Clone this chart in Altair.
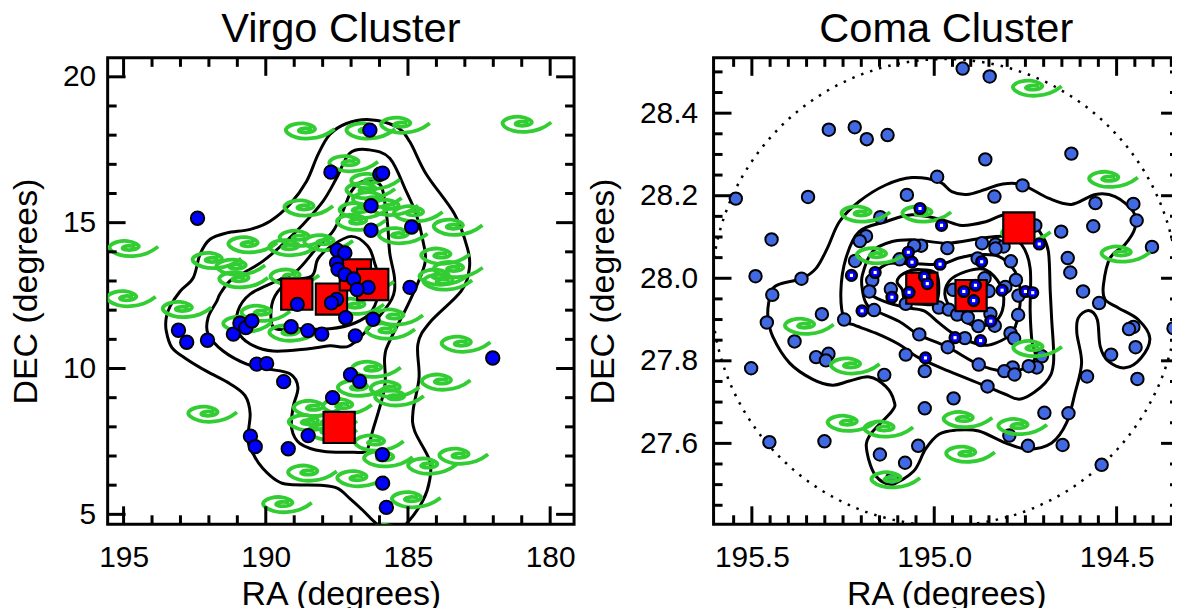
import altair as alt
import pandas as pd

FONT = "Liberation Sans"

# ---------- Virgo panel (RA, DEC in degrees) ----------
VIRGO_BLUE = [(187.71,16.73),(192.40,15.15),(186.34,18.17),(185.99,16.66),(185.89,16.70),(186.30,15.58),(186.30,14.74),
 (184.87,14.85),(187.49,14.06),(187.22,13.96),(187.51,13.62),(187.46,13.40),(187.22,13.22),(186.91,13.07),(186.40,12.78),
 (186.79,12.71),(184.93,12.78),(187.51,12.37),(187.69,12.25),(188.89,12.20),(193.07,11.31),(192.78,10.90),(192.05,10.97),
 (191.14,11.18),(190.91,11.55),(190.70,11.40),(190.49,11.63),(189.11,11.43),(188.52,11.30),(188.03,11.18),(187.19,11.74),
 (186.23,11.69),(186.85,11.12),(190.32,10.15),(189.97,10.17),(189.37,9.55),(187.65,9.00),(187.02,9.79),(186.70,9.56),
 (182.02,10.36),(190.54,7.68),(190.37,7.32),(189.21,7.25),(188.51,7.70),(185.90,7.05),(185.89,6.07),(185.76,5.24)]
VIRGO_RED = [(188.91,12.55),(187.69,12.38),(186.85,13.21),(186.24,12.88),(187.42,7.98)]
VIRGO_SPIRALS = [(188.47,18.12),(194.67,14.09),(191.75,13.68),(190.91,13.45),(190.81,13.02),(194.76,12.37),(190.49,14.22),
 (189.05,14.12),(188.69,14.44),(187.82,14.29),(188.52,15.48),(189.01,13.11),(186.94,17.00),(192.80,12.00),(186.34,18.12),
 (185.12,18.32),(180.85,18.35),(186.17,16.39),(186.34,16.07),(186.11,15.76),(185.53,15.50),(186.58,15.39),(186.67,14.99),
 (184.67,15.28),(183.27,14.82),(185.20,14.53),(183.71,13.83),(183.26,13.37),(183.77,13.11),(183.63,12.94),(185.64,11.26),
 (185.36,11.74),(190.03,11.87),(190.67,11.49),(189.05,11.19),(191.90,8.41),(188.19,8.61),(188.37,8.12),(188.39,6.39),
 (189.27,5.31),(186.66,6.20),(186.64,9.30),(186.14,9.95),(185.49,9.27),(185.33,8.97),(183.69,9.51),(182.99,10.81),
 (187.16,8.67),(186.04,7.42),(185.72,6.88),(184.17,6.63),(183.07,6.97),(184.74,5.48),(185.55,4.35),(187.68,8.11),
 (187.68,7.80),(186.38,12.89),(186.73,12.11)]
VIRGO_C1 = [(186.17,4.73),(186.59,5.14),(187.05,5.55),(187.47,5.89),(187.99,5.99),(189.15,6.02),(189.62,6.16),(190.10,6.57),
 (190.38,6.96),(190.63,7.53),(190.55,8.45),(190.73,9.07),(191.26,9.48),(192.07,9.90),(192.78,10.32),(193.30,10.72),
 (193.50,11.29),(193.50,11.74),(193.36,12.14),(193.01,12.65),(192.55,13.11),(192.31,13.92),(191.96,14.43),(191.37,14.65),
 (190.55,14.77),(189.85,15.05),(189.15,15.63),(188.57,16.41),(188.16,17.34),(187.75,18.02),(187.16,18.40),(186.34,18.53),
 (185.41,18.29),(184.94,17.78),(184.35,16.65),(183.36,15.29),(182.91,14.13),(182.84,13.45),(183.13,12.65),(184.24,11.57),
 (184.65,10.84),(184.61,9.69),(184.82,8.55),(184.77,7.87),(184.24,6.85),(184.24,6.16),(184.47,5.48),(185.00,4.74),(185.57,4.28)]
VIRGO_C2 = [(191.72,12.31),(192.03,11.74),(192.03,11.19),(191.50,10.60),(190.67,10.15),(189.97,9.99),(189.15,9.82),(188.87,9.35),
 (189.04,8.67),(189.09,7.94),(188.80,7.43),(187.99,7.16),(186.94,7.13),(186.46,7.19),(186.24,7.87),(185.82,9.35),(185.82,10.38),
 (185.64,10.95),(184.94,12.31),(184.41,13.58),(184.47,14.36),(184.71,15.29),(185.06,16.07),(185.64,17.21),(186.40,17.50),
 (187.05,17.38),(187.51,16.53),(187.99,15.73),(188.69,14.94),(189.40,14.26),(190.10,13.68),(190.67,13.34),(191.26,13.00),(191.61,12.55)]
VIRGO_C3 = [(190.98,11.97),(190.98,11.29),(190.55,10.84),(189.75,10.60),(188.55,10.67),(187.75,10.78),(187.05,10.78),(186.24,11.53),
 (185.57,12.38),(185.47,13.06),(185.64,13.95),(185.71,14.88),(185.82,15.73),(185.99,16.31),(186.59,16.41),(186.99,16.07),
 (187.29,15.39),(187.64,14.70),(188.21,14.13),(188.92,13.34),(189.62,13.00),(190.55,12.55)]
VIRGO_C4 = [(186.99,14.53),(186.41,14.19),(186.17,13.61),(185.99,12.83),(186.27,11.97),(186.87,11.56),(187.75,11.36),(188.80,11.36),
 (189.64,11.36),(189.82,11.77),(189.68,12.48),(189.15,13.00),(188.38,13.17),(188.17,13.75),(187.71,14.19)]
VIRGO_X_MAJOR = [195, 190, 185, 180]
VIRGO_X_MINOR = [194, 193, 192, 191, 189, 188, 187, 186, 184, 183, 182, 181]
VIRGO_Y_MAJOR = [5, 10, 15, 20]
VIRGO_Y_MINOR = [6, 7, 8, 9, 11, 12, 13, 14, 16, 17, 18, 19]
VIRGO_X_DOMAIN = [195.56, 179.16]
VIRGO_Y_DOMAIN = [4.66, 20.65]

# ---------- Coma panel (RA, DEC in degrees) ----------
COMA_MEMBERS = [(195.289,28.360),(195.218,28.366),(195.185,28.337),(195.128,28.347),(195.544,28.193),(195.346,28.197),(195.446,28.094),
 (195.490,28.005),(195.364,27.999),(194.992,28.246),(195.075,28.202),(195.148,28.148),(195.187,28.102),(195.204,28.090),(195.036,28.079),
 (195.055,28.079),(195.217,28.042),(195.095,28.046),(195.170,27.995),(195.178,27.968),(195.119,27.974),(195.444,27.960),(194.922,28.508),
 (194.848,28.489),(194.860,28.288),(194.624,28.302),(194.835,28.198),(194.758,28.225),(194.558,28.182),(194.454,28.180),(194.445,28.140),
 (194.564,28.126),(194.652,28.113),(194.403,28.076),(194.634,28.049),(194.627,28.014),(194.592,27.968),(194.723,28.128),(194.869,28.085),
 (194.832,28.082),(194.810,28.077),(194.832,28.072),(194.964,28.073),(194.881,28.048),(194.790,28.041),(194.776,27.996),(195.459,27.893),
 (195.308,27.913),(195.383,27.847),(195.324,27.809),(195.290,27.817),(195.297,27.801),(195.502,27.782),(195.137,27.766),(195.247,27.900),
 (195.165,27.923),(195.078,27.938),(195.041,27.864),(195.078,27.815),(195.026,27.775),(195.026,27.685),(195.452,27.603),(195.301,27.605),
 (195.149,27.573),(195.080,27.553),(195.044,27.594),(195.116,27.514),(194.548,27.940),(194.454,27.882),(194.466,27.877),(194.448,27.833),
 (194.515,27.815),(194.443,27.756),(194.344,27.879),(194.581,27.762),(194.632,27.673),(194.698,27.674),(194.648,27.596),(194.743,27.594),
 (194.794,27.619),(194.541,27.548),(194.947,27.709),(194.854,27.738),(194.878,27.791),(194.770,27.911),(194.791,27.867),(194.781,27.854),
 (194.705,27.811),(194.719,27.784),(194.741,27.787),(194.785,27.784),(194.808,27.775),(194.780,27.767),(194.963,27.833),(194.916,27.855),
 (194.834,27.885),(194.879,27.884),(194.987,27.929),(194.960,27.924),(194.937,27.912),(194.908,27.905),(194.862,28.000),(194.948,27.972),
 (194.851,27.969),(194.805,27.979),(194.846,27.914),(194.769,27.958)]
COMA_SELECTED = [(195.039,28.169),(194.980,28.128),(194.712,28.083),(195.071,28.063),(195.061,28.039),(194.984,28.034),(194.870,28.040),
 (195.227,28.007),(195.162,28.014),(195.027,28.004),(195.019,27.987),(195.069,27.966),(195.116,27.954),(194.887,27.983),(194.919,27.968),
 (194.892,27.946),(194.814,27.971),(194.750,27.968),(194.730,27.965),(195.198,27.921),(194.845,27.896),(194.943,27.856),(194.873,27.849),(195.024,27.807)]
COMA_RED = [(194.768,28.122),(195.034,27.976),(194.899,27.958)]
COMA_SPIRALS = [(195.190,28.154),(195.023,28.154),(195.148,28.053),(194.720,28.459),(194.511,28.238),(194.477,28.057),(194.750,28.106),
 (195.345,27.882),(195.219,27.786),(195.228,27.647),(195.127,27.633),(195.108,27.510),(194.719,27.828),(194.910,27.656),(194.760,27.639),(194.903,27.572)]
COMA_CENTRE = [(194.971, 27.966)]
COMA_C1 = [(195.443,27.975),(195.416,27.988),(195.364,27.999),(195.324,28.024),(195.293,28.073),(195.260,28.137),(195.206,28.186),(195.133,28.226),
 (195.061,28.244),(194.987,28.234),(194.952,28.210),(194.911,28.203),(194.860,28.215),(194.815,28.228),(194.760,28.227),(194.687,28.194),(194.624,28.179),
 (194.558,28.203),(194.504,28.198),(194.454,28.161),(194.450,28.121),(194.477,28.082),(194.518,28.049),(194.536,27.985),(194.532,27.949),(194.495,27.928),
 (194.441,27.900),(194.409,27.855),(194.433,27.807),(194.477,27.783),(194.523,27.799),(194.545,27.835),(194.553,27.900),(194.577,27.922),(194.605,27.904),
 (194.609,27.867),(194.596,27.795),(194.614,27.722),(194.637,27.650),(194.678,27.601),(194.743,27.586),(194.805,27.601),(194.878,27.630),(194.942,27.632),
 (194.987,27.622),(195.024,27.586),(195.056,27.533),(195.116,27.502),(195.160,27.521),(195.184,27.577),(195.178,27.618),(195.116,27.678),(195.110,27.702),
 (195.133,27.738),(195.178,27.761),(195.233,27.751),(195.279,27.741),(195.333,27.755),(195.397,27.795),(195.443,27.859),(195.456,27.908),(195.454,27.940)]
COMA_C2 = [(195.247,27.900),(195.256,27.968),(195.242,28.049),(195.206,28.113),(195.133,28.137),(195.061,28.154),(194.979,28.142),(194.924,28.128),
 (194.859,28.137),(194.805,28.154),(194.741,28.142),(194.706,28.106),(194.687,28.065),(194.682,27.968),(194.678,27.900),(194.673,27.795),(194.696,27.746),
 (194.760,27.708),(194.805,27.719),(194.856,27.738),(194.960,27.775),(195.042,27.807),(195.097,27.840),(195.160,27.867),(195.224,27.888)]
COMA_C3 = [(195.197,27.972),(195.197,28.008),(195.169,28.065),(195.115,28.089),(195.051,28.093),(194.965,28.085),(194.869,28.097),(194.805,28.101),
 (194.760,28.081),(194.737,28.024),(194.737,27.920),(194.732,27.847),(194.723,27.807),(194.760,27.779),(194.810,27.775),(194.878,27.791),(194.963,27.833),
 (195.042,27.863),(195.097,27.896),(195.165,27.923),(195.187,27.940)]
COMA_C4 = [(195.178,27.964),(195.174,27.996),(195.133,28.033),(195.069,28.036),(194.983,28.034),(194.933,28.049),(194.883,28.057),(194.823,28.053),
 (194.778,28.016),(194.764,27.968),(194.769,27.912),(194.787,27.867),(194.832,27.843),(194.873,27.839),(194.942,27.863),(194.987,27.892),(195.028,27.921),
 (195.078,27.929),(195.137,27.944)]
COMA_C5 = [(195.102,27.992),(195.088,27.973),(195.078,27.944),(195.034,27.937),(194.993,27.944),(194.993,28.009),(195.042,28.021),(195.083,28.012)]
COMA_C6 = [(194.969,27.952),(194.960,27.992),(194.914,28.016),(194.860,28.021),(194.819,27.984),(194.810,27.936),(194.832,27.896),(194.887,27.884),(194.933,27.908)]
COMA_X_MAJOR = [195.5, 195.0, 194.5]
COMA_X_MINOR = [195.55,195.45,195.4,195.35,195.3,195.25,195.2,195.15,195.1,195.05,194.95,194.9,194.85,194.8,194.75,194.7,194.65,194.6,194.55,194.45,194.4,194.35]
COMA_Y_MAJOR = [27.6, 27.8, 28.0, 28.2, 28.4]
COMA_Y_MINOR = [27.45,27.5,27.55,27.65,27.7,27.75,27.85,27.9,27.95,28.05,28.1,28.15,28.25,28.3,28.35,28.45,28.5]
COMA_X_DOMAIN = [195.605, 194.329]
COMA_Y_DOMAIN = [27.404, 28.534]

# spiral glyph control points, in symbol units
SPIRAL = [(0.98,-0.10),(0.75,0.08),(0.30,0.245),(-0.28,0.285),(-0.735,0.155),(-0.955,-0.05),(-0.80,-0.23),(-0.41,-0.335),
          (-0.03,-0.30),(0.26,-0.14),(0.17,-0.01),(-0.155,0.05),(-0.44,-0.01),(-0.35,-0.115),(-0.09,-0.14),(0.10,-0.10)]


def spiral_path(pts):
    d = f"M{pts[0][0]:.3f},{pts[0][1]:.3f}"
    for a, b in zip(pts[1:-1], pts[2:]):
        d += f"Q{a[0]:.3f},{a[1]:.3f},{(a[0]+b[0])/2:.3f},{(a[1]+b[1])/2:.3f}"
    d += f"L{pts[-1][0]:.3f},{pts[-1][1]:.3f}"
    return d


SPIRAL_PATH = spiral_path(SPIRAL)
H = 468
LABEL = 30
AXT = 34
TICK_W = 3


def df(pairs):
    return pd.DataFrame(pairs, columns=["ra", "dec"])


def contours(curves):
    rows = []
    for c, pts in enumerate(curves):
        rows += [{"ra": r, "dec": d, "c": c, "i": i} for i, (r, d) in enumerate(pts)]
    return pd.DataFrame(rows)


def panel(title, W, xdom, ydom, xmaj, xmin, ymaj, ymin, fmt, under, over, curves, lab_pad_y, title_pad_y):
    xaxis = alt.Axis(values=xmaj, format=fmt, title="RA (degrees)", ticks=False, domain=False, grid=False,
                     labelFont=FONT, labelFontSize=LABEL, labelColor="black", labelPadding=18, labelOverlap=False, labelFlush=False,
                     titleFont=FONT, titleFontSize=AXT, titleFontWeight="normal", titleColor="black", titlePadding=6)
    yaxis = alt.Axis(values=ymaj, format=fmt, title="DEC (degrees)", ticks=False, domain=False, grid=False,
                     labelFont=FONT, labelFontSize=LABEL, labelColor="black", labelPadding=lab_pad_y, labelOverlap=False, labelFlush=False,
                     titleFont=FONT, titleFontSize=AXT, titleFontWeight="normal", titleColor="black", titlePadding=title_pad_y)
    X = alt.X("ra:Q", scale=alt.Scale(domain=xdom, nice=False, zero=False), axis=xaxis)
    Y = alt.Y("dec:Q", scale=alt.Scale(domain=ydom, nice=False, zero=False), axis=yaxis)

    def xticks(vals, n):
        base = alt.Chart(pd.DataFrame({"ra": vals})).mark_rule(stroke="black", strokeWidth=TICK_W)
        return [base.encode(x=X, y=alt.value(0), y2=alt.value(n)),
                base.encode(x=X, y=alt.value(H), y2=alt.value(H - n))]

    def yticks(vals, n):
        base = alt.Chart(pd.DataFrame({"dec": vals})).mark_rule(stroke="black", strokeWidth=TICK_W)
        return [base.encode(y=Y, x=alt.value(0), x2=alt.value(n)),
                base.encode(y=Y, x=alt.value(W), x2=alt.value(W - n))]

    line = alt.Chart(contours(curves)).mark_line(interpolate="cardinal-closed", stroke="black", strokeWidth=3, clip=True).encode(
        x=X, y=Y, detail="c:N", order="i:Q")
    layers = []
    layers += under(X, Y, "first")
    layers.append(line)
    layers += under(X, Y, "second")
    layers += over(X, Y)
    layers += xticks(xmaj, 18) + xticks(xmin, 9) + yticks(ymaj, 18) + yticks(ymin, 9)
    return alt.layer(*layers).properties(
        width=W, height=H,
        title=alt.TitleParams(title, font=FONT, fontSize=41.7, fontWeight="normal", color="black", anchor="middle", offset=6))


def spiral_layer(data, X, Y):
    return alt.Chart(df(data)).mark_point(shape=SPIRAL_PATH, size=2670, filled=False, stroke="#32CD32", strokeWidth=3.8,
                                          opacity=1, clip=True).encode(x=X, y=Y)


def red_layer(data, X, Y):
    return alt.Chart(df(data)).mark_square(size=980, fill="red", stroke="black", strokeWidth=2.2, opacity=1, clip=True).encode(x=X, y=Y)


def virgo_under(X, Y, stage):
    return []


def virgo_over(X, Y):
    return [spiral_layer(VIRGO_SPIRALS, X, Y), red_layer(VIRGO_RED, X, Y),
            alt.Chart(df(VIRGO_BLUE)).mark_point(shape="circle", size=182, filled=True, fill="#0000FF", stroke="black",
                                                 strokeWidth=1.9, opacity=1, clip=True).encode(x=X, y=Y)]


def coma_under(X, Y, stage):
    if stage == "first":
        return [alt.Chart(df(COMA_CENTRE)).mark_point(shape="circle", size=219000, filled=False, stroke="black", strokeWidth=2.5,
                                                      strokeDash=[2.5, 7], opacity=1, clip=True).encode(x=X, y=Y)]
    return [alt.Chart(df(COMA_MEMBERS)).mark_point(shape="circle", size=156, filled=True, fill="#4169E1", stroke="black",
                                                   strokeWidth=2, opacity=1, clip=True).encode(x=X, y=Y)]


def coma_over(X, Y):
    return [spiral_layer(COMA_SPIRALS, X, Y), red_layer(COMA_RED, X, Y),
            alt.Chart(df(COMA_SELECTED)).mark_point(shape="circle", size=121, filled=True, fill="#0000FF", stroke="black",
                                                    strokeWidth=2.2, opacity=1, clip=True).encode(x=X, y=Y),
            alt.Chart(df(COMA_SELECTED)).mark_square(size=10, color="white", opacity=1, clip=True).encode(x=X, y=Y)]


left = panel("Virgo Cluster", 468, VIRGO_X_DOMAIN, VIRGO_Y_DOMAIN, VIRGO_X_MAJOR, VIRGO_X_MINOR, VIRGO_Y_MAJOR, VIRGO_Y_MINOR,
             "d", virgo_under, virgo_over, [VIRGO_C1, VIRGO_C2, VIRGO_C3, VIRGO_C4], 12, 19)
right = panel("Coma Cluster", 467, COMA_X_DOMAIN, COMA_Y_DOMAIN, COMA_X_MAJOR, COMA_X_MINOR, COMA_Y_MAJOR, COMA_Y_MINOR,
              ".1f", coma_under, coma_over, [COMA_C1, COMA_C2, COMA_C3, COMA_C4, COMA_C5, COMA_C6], 16, 19)

chart = alt.hconcat(left, right, spacing=8, padding={"left": 0, "top": -2, "right": -10, "bottom": -5},
                    background="white").configure_view(stroke="black", strokeWidth=3)
chart.save("out.html", embed_options={"renderer": "svg", "actions": False})
